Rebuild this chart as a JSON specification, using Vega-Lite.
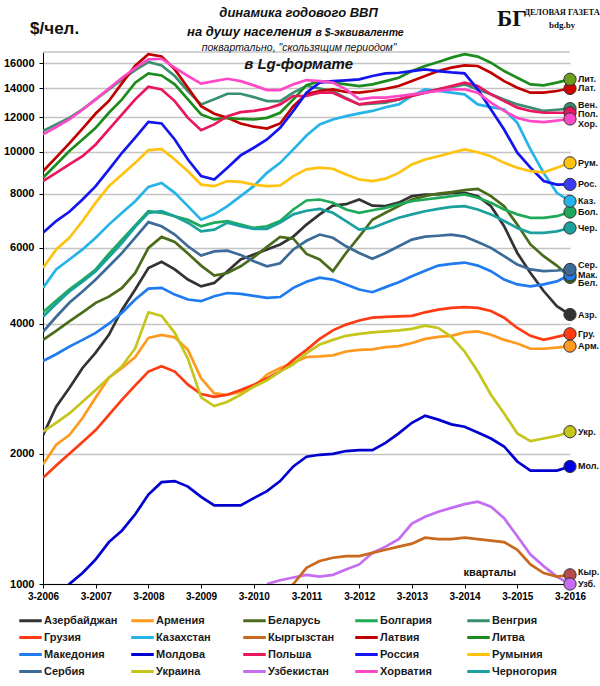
{
"$schema": "https://vega.github.io/schema/vega-lite/v6.json",
"width": 527, "height": 532,
"autosize": {"type": "none"},
"padding": {"left": 43, "top": 52, "right": 30, "bottom": 102},
"background": "white",
"config": {"view": {"stroke": null}, "font": "Liberation Sans"},
"datasets": {
"names": [
{"k":"Az","name":"Азербайджан","s":"Азр."},{"k":"Arm","name":"Армения","s":"Арм."},{"k":"Bel","name":"Беларусь","s":"Бел."},{"k":"Bol","name":"Болгария","s":"Бол."},{"k":"Ven","name":"Венгрия","s":"Вен."},{"k":"Gru","name":"Грузия","s":"Гру."},{"k":"Kaz","name":"Казахстан","s":"Каз."},{"k":"Kyr","name":"Кыргызстан","s":"Кыр."},{"k":"Lat","name":"Латвия","s":"Лат."},{"k":"Lit","name":"Литва","s":"Лит."},{"k":"Mak","name":"Македония","s":"Мак."},{"k":"Mol","name":"Молдова","s":"Мол."},{"k":"Pol","name":"Польша","s":"Пол."},{"k":"Ros","name":"Россия","s":"Рос."},{"k":"Rum","name":"Румыния","s":"Рум."},{"k":"Ser","name":"Сербия","s":"Сер."},{"k":"Ukr","name":"Украина","s":"Укр."},{"k":"Uzb","name":"Узбекистан","s":"Узб."},{"k":"Hor","name":"Хорватия","s":"Хор."},{"k":"Cher","name":"Черногория","s":"Чер."}
],
"notes": [
{"id":"t1","txt":"динамика годового ВВП"},
{"id":"t2","txt":"на душу населения"},
{"id":"t2b","txt":"в $-эквиваленте"},
{"id":"t3","txt":"поквартально, \"скользящим периодом\""},
{"id":"lg","txt":"в Lg-формате"},
{"id":"kv","txt":"кварталы"},
{"id":"unit","txt":"$/чел."},
{"id":"bg","txt":"БГ"},
{"id":"dg","txt":"ДЕЛОВАЯ ГАЗЕТА"},
{"id":"url","txt":"bdg.by"}
],
"gdp": [
{"t":2006,"Az":2210,"Arm":1890,"Bel":3670,"Bol":4250,"Ven":11160,"Gru":1760,"Kaz":4840,"Lat":9010,"Lit":8700,"Mak":3280,"Mol":840,"Pol":8550,"Ros":6490,"Rum":5380,"Ser":3830,"Ukr":2250,"Hor":10960,"Cher":4150},
{"t":2006.25,"Az":2570,"Arm":2100,"Bel":3850,"Bol":4520,"Ven":11560,"Gru":1880,"Kaz":5340,"Lat":9700,"Lit":9340,"Mak":3400,"Mol":920,"Pol":8930,"Ros":6910,"Rum":5940,"Ser":4150,"Ukr":2360,"Hor":11400,"Cher":4450},
{"t":2006.5,"Az":2840,"Arm":2210,"Bel":4050,"Bol":4800,"Ven":11970,"Gru":2000,"Kaz":5630,"Lat":10450,"Lit":10030,"Mak":3540,"Mol":1000,"Pol":9340,"Ros":7260,"Rum":6320,"Ser":4470,"Ukr":2480,"Hor":11870,"Cher":4750},
{"t":2006.75,"Az":3160,"Arm":2420,"Bel":4250,"Bol":5050,"Ven":12520,"Gru":2130,"Kaz":5940,"Lat":11300,"Lit":10670,"Mak":3670,"Mol":1060,"Pol":9760,"Ros":7750,"Rum":6910,"Ser":4750,"Ukr":2640,"Hor":12500,"Cher":5000},
{"t":2007,"Az":3430,"Arm":2700,"Bel":4470,"Bol":5340,"Ven":13210,"Gru":2270,"Kaz":6320,"Lat":12250,"Lit":11350,"Mak":3810,"Mol":1140,"Pol":10390,"Ros":8320,"Rum":7620,"Ser":5060,"Ukr":2810,"Hor":13210,"Cher":5290},
{"t":2007.25,"Az":3770,"Arm":3000,"Bel":4620,"Bol":5800,"Ven":13930,"Gru":2460,"Kaz":6780,"Lat":13100,"Lit":12300,"Mak":4000,"Mol":1250,"Pol":11260,"Ros":9090,"Rum":8320,"Ser":5430,"Ukr":3000,"Hor":14000,"Cher":5700},
{"t":2007.5,"Az":4310,"Arm":3160,"Bel":4840,"Bol":6260,"Ven":14690,"Gru":2670,"Kaz":7220,"Lat":14400,"Lit":13210,"Mak":4240,"Mol":1330,"Pol":12190,"Ros":9940,"Rum":8850,"Ser":5830,"Ukr":3190,"Hor":14820,"Cher":6150},
{"t":2007.75,"Az":4800,"Arm":3350,"Bel":5240,"Bol":6750,"Ven":15440,"Gru":2880,"Kaz":7680,"Lat":15800,"Lit":14440,"Mak":4550,"Mol":1450,"Pol":13210,"Ros":10770,"Rum":9420,"Ser":6330,"Ukr":3510,"Hor":15600,"Cher":6700},
{"t":2008,"Az":5380,"Arm":3710,"Bel":5990,"Bol":7280,"Ven":16120,"Gru":3100,"Kaz":8290,"Lat":16800,"Lit":15170,"Mak":4820,"Mol":1610,"Pol":14130,"Ros":11710,"Rum":10080,"Ser":6870,"Ukr":4250,"Hor":16350,"Cher":7220},
{"t":2008.25,"Az":5560,"Arm":3770,"Bel":6350,"Bol":7220,"Ven":15830,"Gru":3190,"Kaz":8460,"Lat":16600,"Lit":15000,"Mak":4840,"Mol":1720,"Pol":13930,"Ros":11620,"Rum":10130,"Ser":6720,"Ukr":4170,"Hor":16400,"Cher":7280},
{"t":2008.5,"Az":5340,"Arm":3720,"Bel":6180,"Bol":7090,"Ven":14960,"Gru":3100,"Kaz":8030,"Lat":15500,"Lit":14310,"Mak":4670,"Mol":1730,"Pol":13090,"Ros":10670,"Rum":9590,"Ser":6430,"Ukr":3810,"Hor":15640,"Cher":7090},
{"t":2008.75,"Az":5060,"Arm":3480,"Bel":5810,"Bol":6960,"Ven":13810,"Gru":2890,"Kaz":7480,"Lat":14050,"Lit":13210,"Mak":4550,"Mol":1680,"Pol":11970,"Ros":9590,"Rum":9010,"Ser":6040,"Ukr":3320,"Hor":14960,"Cher":6850},
{"t":2009,"Az":4880,"Arm":2990,"Bel":5450,"Bol":6720,"Ven":12860,"Gru":2750,"Kaz":6960,"Lat":12740,"Lit":12190,"Mak":4510,"Mol":1590,"Pol":11210,"Ros":8780,"Rum":8390,"Ser":5750,"Ukr":2700,"Hor":14360,"Cher":6540},
{"t":2009.25,"Az":4970,"Arm":2760,"Bel":5170,"Bol":6850,"Ven":13210,"Gru":2710,"Kaz":7160,"Lat":12240,"Lit":11870,"Mak":4630,"Mol":1520,"Pol":11560,"Ros":8620,"Rum":8320,"Ser":5880,"Ukr":2580,"Hor":14560,"Cher":6600},
{"t":2009.5,"Az":5290,"Arm":2740,"Bel":5240,"Bol":6910,"Ven":13610,"Gru":2740,"Kaz":7480,"Lat":11970,"Lit":11970,"Mak":4710,"Mol":1520,"Pol":12080,"Ros":9180,"Rum":8550,"Ser":5900,"Ukr":2640,"Hor":14740,"Cher":6850},
{"t":2009.75,"Az":5630,"Arm":2780,"Bel":5430,"Bol":6780,"Ven":13610,"Gru":2810,"Kaz":7890,"Lat":11620,"Lit":11900,"Mak":4690,"Mol":1520,"Pol":12340,"Ros":9800,"Rum":8510,"Ser":5770,"Ukr":2740,"Hor":14560,"Cher":6720},
{"t":2010,"Az":5780,"Arm":2860,"Bel":5700,"Bol":6660,"Ven":13370,"Gru":2890,"Kaz":8320,"Lat":11420,"Lit":11870,"Mak":4640,"Mol":1580,"Pol":12420,"Ros":10210,"Rum":8390,"Ser":5580,"Ukr":2860,"Hor":14230,"Cher":6630},
{"t":2010.25,"Az":5940,"Arm":3050,"Bel":6020,"Bol":6720,"Ven":13090,"Gru":2990,"Kaz":8930,"Lat":11310,"Lit":11970,"Mak":4590,"Mol":1640,"Pol":12570,"Ros":10670,"Rum":8320,"Ser":5430,"Ukr":2960,"Uzb":1000,"Hor":13880,"Cher":6630},
{"t":2010.5,"Az":6100,"Arm":3160,"Bel":6350,"Bol":6910,"Ven":13090,"Gru":3100,"Kaz":9420,"Kyr":930,"Lat":11620,"Lit":12300,"Mak":4610,"Mol":1730,"Pol":12860,"Ros":11350,"Rum":8350,"Ser":5520,"Ukr":3100,"Uzb":1020,"Hor":13880,"Cher":6850},
{"t":2010.75,"Az":6360,"Arm":3250,"Bel":6290,"Bol":7350,"Ven":13690,"Gru":3300,"Kaz":10120,"Kyr":1000,"Lat":12740,"Lit":13210,"Mak":4840,"Mol":1870,"Pol":13450,"Ros":12420,"Rum":8780,"Ser":5940,"Ukr":3220,"Uzb":1035,"Hor":14310,"Cher":7160},
{"t":2011,"Az":6780,"Arm":3350,"Bel":5800,"Bol":7710,"Ven":14200,"Gru":3480,"Kaz":10900,"Kyr":1090,"Lat":13600,"Lit":14250,"Mak":5000,"Mol":1970,"Pol":13450,"Ros":13690,"Rum":9100,"Ser":6220,"Ukr":3420,"Uzb":1050,"Hor":14640,"Cher":7300},
{"t":2011.25,"Az":7160,"Arm":3360,"Bel":5630,"Bol":7750,"Ven":14000,"Gru":3690,"Kaz":11560,"Kyr":1130,"Lat":13810,"Lit":14560,"Mak":5110,"Mol":1990,"Pol":13690,"Ros":14440,"Rum":9180,"Ser":6430,"Ukr":3580,"Uzb":1040,"Hor":14560,"Cher":7370},
{"t":2011.5,"Az":7500,"Arm":3380,"Bel":5290,"Bol":7620,"Ven":13810,"Gru":3860,"Kaz":11870,"Kyr":1150,"Lat":13930,"Lit":14440,"Mak":5060,"Mol":2000,"Pol":13690,"Ros":14560,"Rum":9130,"Ser":6320,"Ukr":3670,"Uzb":1050,"Hor":14440,"Cher":7220},
{"t":2011.75,"Az":7560,"Arm":3450,"Bel":5830,"Bol":7350,"Ven":13300,"Gru":3980,"Kaz":12080,"Kyr":1160,"Lat":13740,"Lit":14310,"Mak":4930,"Mol":2030,"Pol":13250,"Ros":14620,"Rum":8850,"Ser":6040,"Ukr":3750,"Uzb":1080,"Hor":13930,"Cher":6910},
{"t":2012,"Az":7750,"Arm":3480,"Bel":6360,"Bol":7220,"Ven":12860,"Gru":4070,"Kaz":12260,"Kyr":1160,"Lat":13690,"Lit":14180,"Mak":4800,"Mol":2040,"Pol":12860,"Ros":14690,"Rum":8620,"Ser":5830,"Ukr":3790,"Uzb":1110,"Hor":13210,"Cher":6600},
{"t":2012.25,"Az":7500,"Arm":3490,"Bel":6960,"Bol":7320,"Ven":12920,"Gru":4130,"Kaz":12420,"Kyr":1180,"Lat":13810,"Lit":14310,"Mak":4730,"Mol":2040,"Pol":12980,"Ros":14960,"Rum":8550,"Ser":5650,"Ukr":3820,"Uzb":1180,"Hor":13330,"Cher":6660},
{"t":2012.5,"Az":7480,"Arm":3530,"Bel":7220,"Bol":7410,"Ven":12980,"Gru":4150,"Kaz":12670,"Kyr":1200,"Lat":13980,"Lit":14560,"Mak":4860,"Mol":2120,"Pol":13090,"Ros":15170,"Rum":8660,"Ser":5830,"Ukr":3840,"Uzb":1220,"Hor":13330,"Cher":6850},
{"t":2012.75,"Az":7620,"Arm":3550,"Bel":7480,"Bol":7550,"Ven":13200,"Gru":4160,"Kaz":12860,"Kyr":1220,"Lat":14180,"Lit":14820,"Mak":4990,"Mol":2230,"Pol":13210,"Ros":15220,"Rum":8930,"Ser":6040,"Ukr":3860,"Uzb":1270,"Hor":13450,"Cher":7030},
{"t":2013,"Az":7890,"Arm":3610,"Bel":7750,"Bol":7680,"Ven":13450,"Gru":4170,"Kaz":13450,"Kyr":1240,"Lat":14560,"Lit":15360,"Mak":5150,"Mol":2360,"Pol":13450,"Ros":15360,"Rum":9340,"Ser":6260,"Ukr":3890,"Uzb":1380,"Hor":13570,"Cher":7160},
{"t":2013.25,"Az":7960,"Arm":3690,"Bel":7890,"Bol":7750,"Ven":13700,"Gru":4250,"Kaz":13930,"Kyr":1280,"Lat":14960,"Lit":15780,"Mak":5300,"Mol":2450,"Pol":13690,"Ros":15500,"Rum":9590,"Ser":6360,"Ukr":3960,"Uzb":1430,"Hor":13690,"Cher":7280},
{"t":2013.5,"Az":7960,"Arm":3730,"Bel":8000,"Bol":7820,"Ven":13930,"Gru":4310,"Kaz":13810,"Kyr":1270,"Lat":15360,"Lit":16120,"Mak":5450,"Mol":2400,"Pol":13930,"Ros":15360,"Rum":9760,"Ser":6390,"Ukr":3910,"Uzb":1470,"Hor":13810,"Cher":7370},
{"t":2013.75,"Az":8030,"Arm":3750,"Bel":8060,"Bol":7890,"Ven":14100,"Gru":4350,"Kaz":13690,"Kyr":1270,"Lat":15640,"Lit":16500,"Mak":5500,"Mol":2340,"Pol":14180,"Ros":15250,"Rum":9940,"Ser":6430,"Ukr":3730,"Uzb":1500,"Hor":13930,"Cher":7450},
{"t":2014,"Az":8030,"Arm":3820,"Bel":8150,"Bol":7960,"Ven":14310,"Gru":4370,"Kaz":13570,"Kyr":1280,"Lat":15830,"Lit":16800,"Mak":5540,"Mol":2310,"Pol":14440,"Ros":15170,"Rum":10120,"Ser":6360,"Ukr":3450,"Uzb":1530,"Hor":13930,"Cher":7480},
{"t":2014.25,"Az":7890,"Arm":3840,"Bel":8200,"Bol":7820,"Ven":13930,"Gru":4350,"Kaz":12860,"Kyr":1270,"Lat":15780,"Lit":16590,"Mak":5450,"Mol":2240,"Pol":14180,"Ros":13930,"Rum":9970,"Ser":6180,"Ukr":3100,"Uzb":1550,"Hor":13690,"Cher":7350},
{"t":2014.5,"Az":7480,"Arm":3770,"Bel":7890,"Bol":7620,"Ven":13570,"Gru":4280,"Kaz":12670,"Kyr":1260,"Lat":15220,"Lit":16060,"Mak":5290,"Mol":2170,"Pol":13570,"Ros":12520,"Rum":9760,"Ser":5990,"Ukr":2740,"Uzb":1510,"Hor":12980,"Cher":7160},
{"t":2014.75,"Az":6720,"Arm":3670,"Bel":7480,"Bol":7350,"Ven":13200,"Gru":4130,"Kaz":12520,"Kyr":1250,"Lat":14560,"Lit":15360,"Mak":5060,"Mol":2080,"Pol":13090,"Ros":11250,"Rum":9420,"Ser":5730,"Ukr":2480,"Uzb":1420,"Hor":12420,"Cher":6910},
{"t":2015,"Az":5830,"Arm":3600,"Bel":6780,"Bol":7160,"Ven":12860,"Gru":3910,"Kaz":11660,"Kyr":1200,"Lat":14050,"Lit":14820,"Mak":4930,"Mol":1920,"Pol":12640,"Ros":9940,"Rum":9180,"Ser":5480,"Ukr":2230,"Uzb":1290,"Hor":11970,"Cher":6660},
{"t":2015.25,"Az":5240,"Arm":3500,"Bel":6100,"Bol":7030,"Ven":12640,"Gru":3750,"Kaz":10120,"Kyr":1110,"Lat":13690,"Lit":14310,"Mak":4880,"Mol":1830,"Pol":12420,"Ros":9180,"Rum":9010,"Ser":5340,"Ukr":2140,"Uzb":1170,"Hor":11760,"Cher":6490},
{"t":2015.5,"Az":4760,"Arm":3500,"Bel":5730,"Bol":7030,"Ven":12420,"Gru":3670,"Kaz":8930,"Kyr":1060,"Lat":13690,"Lit":14230,"Mak":4930,"Mol":1830,"Pol":12300,"Ros":8550,"Rum":8960,"Ser":5290,"Ukr":2170,"Uzb":1100,"Hor":11700,"Cher":6490},
{"t":2015.75,"Az":4390,"Arm":3520,"Bel":5450,"Bol":7090,"Ven":12500,"Gru":3730,"Kaz":8030,"Kyr":1040,"Lat":13810,"Lit":14440,"Mak":5010,"Mol":1830,"Pol":12300,"Ros":8390,"Rum":9180,"Ser":5310,"Ukr":2200,"Uzb":1040,"Hor":11800,"Cher":6540},
{"t":2016,"Az":4200,"Arm":3550,"Bel":5120,"Bol":7250,"Ven":12570,"Gru":3790,"Kaz":7680,"Kyr":1050,"Lat":14000,"Lit":14700,"Mak":5190,"Mol":1870,"Pol":12300,"Ros":8400,"Rum":9420,"Ser":5340,"Ukr":2250,"Uzb":1000,"Hor":11900,"Cher":6660}
]
},
"layer": [
{
"data": {"values": [{"lvl": 17000}]},
"mark": {"type": "rule", "color": "#c4c4c4", "strokeWidth": 1.3},
"encoding": {"y": {"field": "lvl", "type": "quantitative"}}
},
{
"data": {"name": "gdp"},
"transform": [
{"fold": ["Az","Arm","Bel","Bol","Ven","Gru","Kaz","Kyr","Lat","Lit","Mak","Mol","Pol","Ros","Rum","Ser","Ukr","Uzb","Hor","Cher"], "as": ["k","v"]},
{"filter": "isValid(datum.v)"},
{"lookup": "k", "from": {"data": {"name": "names"}, "key": "k", "fields": ["name","s"]}}
],
"layer": [
{
"mark": {"type": "line", "strokeWidth": 2.7, "clip": true},
"encoding": {
"x": {"field": "t", "type": "quantitative", "scale": {"domain": [2006, 2016], "nice": false, "zero": false},
"axis": {"values": [2006,2006.25,2006.5,2006.75,2007,2007.25,2007.5,2007.75,2008,2008.25,2008.5,2008.75,2009,2009.25,2009.5,2009.75,2010,2010.25,2010.5,2010.75,2011,2011.25,2011.5,2011.75,2012,2012.25,2012.5,2012.75,2013,2013.25,2013.5,2013.75,2014,2014.25,2014.5,2014.75,2015,2015.25,2015.5,2015.75,2016],
"labelExpr": "datum.value % 1 == 0 ? '3-' + datum.value : ''", "grid": false, "domainColor": "#000", "tickColor": "#000", "tickSize": 4, "labelFont": "Liberation Sans", "labelFontSize": 10, "labelFontWeight": "bold", "labelColor": "#000", "labelPadding": 3, "labelFlush": false, "labelOverlap": false, "title": null}},
"y": {"field": "v", "type": "quantitative", "scale": {"type": "log", "domain": [1000, 17000], "nice": false},
"axis": {"values": [1000,2000,4000,6000,8000,10000,12000,14000,16000], "labelExpr": "format(datum.value, 'd')", "grid": true, "gridColor": "#c4c4c4", "gridWidth": 1.3, "domainColor": "#000", "tickColor": "#000", "tickSize": 4, "labelFont": "Liberation Sans", "labelFontSize": 11, "labelFontWeight": "bold", "labelColor": "#000", "labelPadding": 5, "title": null}},
"color": {"field": "name", "type": "nominal",
"scale": {"domain": ["Азербайджан","Армения","Беларусь","Болгария","Венгрия","Грузия","Казахстан","Кыргызстан","Латвия","Литва","Македония","Молдова","Польша","Россия","Румыния","Сербия","Украина","Узбекистан","Хорватия","Черногория"],
"range": ["#333333","#FF9A1F","#4B6B1C","#1FAA5A","#3A8F6E","#FF3B14","#25B3E8","#C8691E","#C00000","#1E8B1E","#1F7BEF","#0000D0","#E8175E","#1414F0","#FFC20E","#3D6A97","#C5C51C","#C46CF2","#FF48C6","#1AA09E"]},
"legend": {"title": null, "orient": "none", "legendX": -23, "legendY": 558, "direction": "horizontal", "columns": 5, "symbolType": "M-1.25,0H1.25", "symbolSize": 324, "symbolStrokeWidth": 3, "labelFont": "Liberation Sans", "labelFontSize": 11, "labelFontWeight": "bold", "labelColor": "#1a1a1a", "labelOffset": 3, "rowPadding": 0, "columnPadding": 7, "gridAlign": "all", "padding": 0, "labelLimit": 200}}
}
},
{
"transform": [{"filter": "datum.t == 2016"}],
"mark": {"type": "circle", "size": 150, "stroke": "#333", "strokeWidth": 1, "opacity": 1},
"encoding": {
"x": {"field": "t", "type": "quantitative"},
"y": {"field": "v", "type": "quantitative"},
"fill": {"field": "name", "type": "nominal", "legend": null,
"scale": {"domain": ["Азербайджан","Армения","Беларусь","Болгария","Венгрия","Грузия","Казахстан","Кыргызстан","Латвия","Литва","Македония","Молдова","Польша","Россия","Румыния","Сербия","Украина","Узбекистан","Хорватия","Черногория"],
"range": ["#333333","#FF9A1F","#2F6B1C","#1FAA5A","#3A8F6E","#FF3B14","#25B3E8","#B84B4B","#D00000","#6A9E1E","#1F7BEF","#0000E0","#E8175E","#3C3CF5","#FFC20E","#3D6A97","#C5C51C","#C46CF2","#FF48C6","#1AA09E"]}}
}
},
{
"transform": [{"filter": "datum.t == 2016 && indexof(['Ven','Kyr','Pol','Hor','Bel','Ser'], datum.k) < 0"}],
"mark": {"type": "text", "align": "left", "baseline": "middle", "dx": 8, "font": "Liberation Sans", "fontSize": 9, "fontWeight": "bold", "color": "#111"},
"encoding": {
"x": {"field": "t", "type": "quantitative"},
"y": {"field": "v", "type": "quantitative"},
"text": {"field": "s"}
}
},
{
"transform": [{"filter": "datum.t == 2016 && indexof(['Ven','Ser'], datum.k) >= 0"}],
"mark": {"type": "text", "align": "left", "baseline": "middle", "dx": 8, "dy": -4, "font": "Liberation Sans", "fontSize": 9, "fontWeight": "bold", "color": "#111"},
"encoding": {
"x": {"field": "t", "type": "quantitative"},
"y": {"field": "v", "type": "quantitative"},
"text": {"field": "s"}
}
},
{
"transform": [{"filter": "datum.t == 2016 && datum.k == 'Kyr'"}],
"mark": {"type": "text", "align": "left", "baseline": "middle", "dx": 8, "dy": -3, "font": "Liberation Sans", "fontSize": 9, "fontWeight": "bold", "color": "#111"},
"encoding": {
"x": {"field": "t", "type": "quantitative"},
"y": {"field": "v", "type": "quantitative"},
"text": {"field": "s"}
}
},
{
"transform": [{"filter": "datum.t == 2016 && datum.k == 'Pol'"}],
"mark": {"type": "text", "align": "left", "baseline": "middle", "dx": 8, "dy": 1, "font": "Liberation Sans", "fontSize": 9, "fontWeight": "bold", "color": "#111"},
"encoding": {
"x": {"field": "t", "type": "quantitative"},
"y": {"field": "v", "type": "quantitative"},
"text": {"field": "s"}
}
},
{
"transform": [{"filter": "datum.t == 2016 && datum.k == 'Hor'"}],
"mark": {"type": "text", "align": "left", "baseline": "middle", "dx": 8, "dy": 5, "font": "Liberation Sans", "fontSize": 9, "fontWeight": "bold", "color": "#111"},
"encoding": {
"x": {"field": "t", "type": "quantitative"},
"y": {"field": "v", "type": "quantitative"},
"text": {"field": "s"}
}
},
{
"transform": [{"filter": "datum.t == 2016 && datum.k == 'Bel'"}],
"mark": {"type": "text", "align": "left", "baseline": "middle", "dx": 8, "dy": 6, "font": "Liberation Sans", "fontSize": 9, "fontWeight": "bold", "color": "#111"},
"encoding": {
"x": {"field": "t", "type": "quantitative"},
"y": {"field": "v", "type": "quantitative"},
"text": {"field": "s"}
}
}
]
},
{
"data": {"name": "notes"},
"transform": [{"filter": "datum.id == 't1'"}],
"mark": {"type": "text", "font": "Liberation Sans", "fontSize": 13, "fontStyle": "italic", "fontWeight": "bold", "color": "#111", "baseline": "alphabetic"},
"encoding": {"x": {"datum": 2010.85}, "y": {"datum": 20460}, "text": {"field": "txt"}}
},
{
"data": {"name": "notes"},
"transform": [{"filter": "datum.id == 't2'"}],
"mark": {"type": "text", "font": "Liberation Sans", "fontSize": 13, "fontStyle": "italic", "fontWeight": "bold", "color": "#111", "baseline": "alphabetic", "align": "right"},
"encoding": {"x": {"datum": 2011.1}, "y": {"datum": 18490}, "text": {"field": "txt"}}
},
{
"data": {"name": "notes"},
"transform": [{"filter": "datum.id == 't2b'"}],
"mark": {"type": "text", "font": "Liberation Sans", "fontSize": 10.5, "fontStyle": "italic", "fontWeight": "bold", "color": "#111", "baseline": "alphabetic", "align": "left"},
"encoding": {"x": {"datum": 2011.17}, "y": {"datum": 18490}, "text": {"field": "txt"}}
},
{
"data": {"name": "notes"},
"transform": [{"filter": "datum.id == 't3'"}],
"mark": {"type": "text", "font": "Liberation Sans", "fontSize": 10.5, "fontStyle": "italic", "color": "#111", "baseline": "alphabetic"},
"encoding": {"x": {"datum": 2010.86}, "y": {"datum": 17070}, "text": {"field": "txt"}}
},
{
"data": {"name": "notes"},
"transform": [{"filter": "datum.id == 'lg'"}],
"mark": {"type": "text", "font": "Liberation Sans", "fontSize": 15, "fontStyle": "italic", "fontWeight": "bold", "color": "#111", "baseline": "middle"},
"encoding": {"x": {"datum": 2010.85}, "y": {"datum": 15930}, "text": {"field": "txt"}}
},
{
"data": {"name": "notes"},
"transform": [{"filter": "datum.id == 'kv'"}],
"mark": {"type": "text", "font": "Liberation Sans", "fontSize": 11, "fontWeight": "bold", "color": "#111", "baseline": "middle"},
"encoding": {"x": {"datum": 2014.48}, "y": {"datum": 1060}, "text": {"field": "txt"}}
},
{
"data": {"name": "notes"},
"transform": [{"filter": "datum.id == 'unit'"}],
"mark": {"type": "text", "font": "Liberation Sans", "fontSize": 17, "fontWeight": "bold", "color": "#111", "baseline": "middle"},
"encoding": {"x": {"datum": 2006.22}, "y": {"datum": 19200}, "text": {"field": "txt"}}
},
{
"data": {"name": "notes"},
"transform": [{"filter": "datum.id == 'bg'"}],
"mark": {"type": "text", "font": "Liberation Serif", "fontSize": 23, "fontWeight": "bold", "color": "#111", "baseline": "middle"},
"encoding": {"x": {"datum": 2014.9}, "y": {"datum": 20300}, "text": {"field": "txt"}}
},
{
"data": {"name": "notes"},
"transform": [{"filter": "datum.id == 'dg'"}],
"mark": {"type": "text", "font": "Liberation Serif", "fontSize": 8.5, "fontWeight": "bold", "color": "#111", "baseline": "middle"},
"encoding": {"x": {"datum": 2015.85}, "y": {"datum": 21010}, "text": {"field": "txt"}}
},
{
"data": {"name": "notes"},
"transform": [{"filter": "datum.id == 'url'"}],
"mark": {"type": "text", "font": "Liberation Serif", "fontSize": 9, "fontWeight": "bold", "color": "#111", "baseline": "middle"},
"encoding": {"x": {"datum": 2015.85}, "y": {"datum": 19600}, "text": {"field": "txt"}}
}
]
}
